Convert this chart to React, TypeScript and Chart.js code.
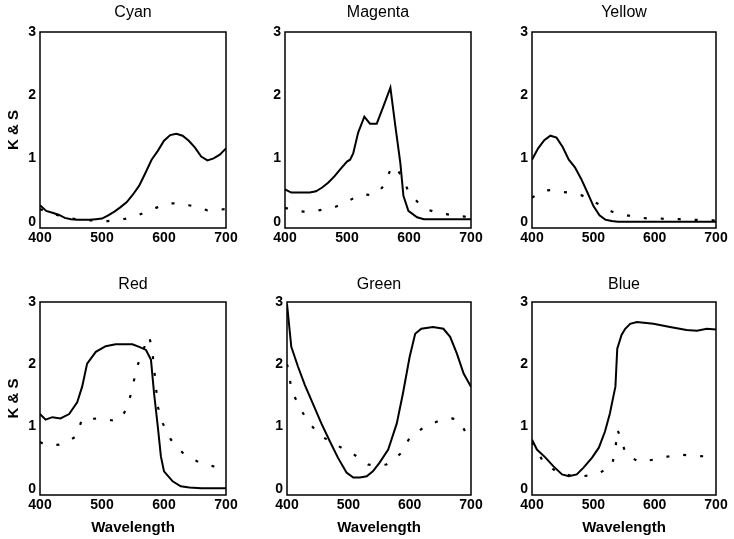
import React, { useEffect, useRef } from "react";
import { Chart, registerables } from "chart.js";

Chart.register(...registerables);
Chart.defaults.font.family = "'Liberation Sans', Arial, Helvetica, sans-serif";
Chart.defaults.color = "#000";

type Pt = [number, number];

// ---- axis ticks ----
const X_TICKS = [400, 500, 600, 700];
const Y_TICKS = [0, 1, 2, 3];
const X_LABEL = "Wavelength";
const Y_LABEL = "K & S";
const TITLES = ["Cyan", "Magenta", "Yellow", "Red", "Green", "Blue"];

// ---- data: [wavelength nm, value] ----
const cyanSolid: Pt[] = [
  [400, 0.26], [410, 0.17], [420, 0.14], [430, 0.11], [440, 0.06], [450, 0.04], [460, 0.03],
  [470, 0.03], [480, 0.03], [490, 0.04], [500, 0.05], [510, 0.1], [520, 0.16], [530, 0.23],
  [540, 0.31], [550, 0.43], [560, 0.57], [570, 0.77], [580, 0.98], [590, 1.12], [600, 1.28],
  [610, 1.37], [620, 1.39], [630, 1.36], [640, 1.28], [650, 1.17], [660, 1.03], [670, 0.97],
  [680, 1.0], [690, 1.06], [700, 1.16],
];
const cyanDotted: Pt[] = [
  [400, 0.2], [410, 0.16], [420, 0.13], [430, 0.1], [440, 0.07], [450, 0.05], [460, 0.04],
  [470, 0.03], [480, 0.02], [490, 0.02], [500, 0.01], [510, 0.01], [520, 0.02], [530, 0.03],
  [540, 0.05], [550, 0.08], [560, 0.11], [570, 0.15], [580, 0.19], [590, 0.23], [600, 0.27],
  [610, 0.29], [620, 0.29], [630, 0.28], [640, 0.26], [650, 0.24], [660, 0.21], [670, 0.18],
  [680, 0.18], [690, 0.19], [700, 0.2],
];
const magentaSolid: Pt[] = [
  [400, 0.51], [410, 0.46], [420, 0.46], [440, 0.46], [450, 0.48], [460, 0.54], [470, 0.62],
  [480, 0.72], [490, 0.84], [500, 0.95], [505, 0.98], [510, 1.08], [518, 1.41], [528, 1.66],
  [537, 1.55], [548, 1.55], [559, 1.83], [570, 2.12], [578, 1.51], [586, 0.93], [591, 0.41],
  [599, 0.17], [613, 0.07], [624, 0.04], [700, 0.04],
];
const magentaDotted: Pt[] = [
  [400, 0.22], [410, 0.19], [420, 0.17], [430, 0.16], [440, 0.16], [450, 0.17], [460, 0.19],
  [470, 0.21], [480, 0.23], [490, 0.27], [500, 0.31], [510, 0.37], [520, 0.42], [530, 0.43],
  [540, 0.42], [550, 0.46], [560, 0.58], [570, 0.82], [578, 0.88], [590, 0.68], [600, 0.46],
  [610, 0.35], [620, 0.25], [630, 0.19], [640, 0.16], [650, 0.13], [660, 0.12], [670, 0.1],
  [680, 0.09], [690, 0.08], [700, 0.07],
];
const yellowSolid: Pt[] = [
  [400, 0.98], [410, 1.16], [420, 1.29], [430, 1.36], [440, 1.33], [450, 1.18], [460, 0.98],
  [470, 0.86], [480, 0.68], [490, 0.47], [500, 0.25], [510, 0.1], [520, 0.03], [530, 0.01],
  [540, 0.0], [600, 0.0], [700, 0.0],
];
const yellowDotted: Pt[] = [
  [400, 0.38], [410, 0.44], [420, 0.49], [430, 0.5], [440, 0.49], [450, 0.47], [460, 0.46],
  [470, 0.44], [480, 0.42], [490, 0.38], [500, 0.32], [510, 0.27], [520, 0.21], [530, 0.16],
  [540, 0.13], [550, 0.11], [560, 0.09], [570, 0.07], [580, 0.06], [590, 0.05], [600, 0.05],
  [610, 0.05], [620, 0.04], [630, 0.04], [640, 0.04], [650, 0.03], [660, 0.03], [670, 0.03],
  [680, 0.02], [690, 0.02], [700, 0.02],
];
const redSolid: Pt[] = [
  [400, 1.2], [409, 1.11], [420, 1.15], [433, 1.13], [447, 1.2], [460, 1.39], [468, 1.64],
  [476, 2.01], [490, 2.2], [506, 2.29], [522, 2.32], [549, 2.32], [560, 2.28], [571, 2.23],
  [579, 2.07], [584, 1.53], [590, 1.0], [595, 0.52], [600, 0.28], [614, 0.12], [627, 0.04],
  [641, 0.02], [660, 0.01], [700, 0.01],
];
const redDotted: Pt[] = [
  [400, 0.75], [408, 0.71], [420, 0.7], [431, 0.71], [445, 0.76], [458, 0.84], [468, 1.12],
  [480, 1.12], [493, 1.13], [510, 1.11], [522, 1.09], [532, 1.15], [541, 1.32], [549, 1.61],
  [555, 1.91], [565, 2.2], [576, 2.45], [581, 2.23], [587, 1.64], [590, 1.32], [598, 1.05],
  [611, 0.79], [630, 0.58], [657, 0.42], [680, 0.36], [700, 0.32],
];
const greenSolid: Pt[] = [
  [400, 2.97], [407, 2.28], [418, 1.96], [429, 1.67], [442, 1.37], [456, 1.05], [470, 0.76],
  [483, 0.5], [497, 0.26], [508, 0.18], [519, 0.18], [530, 0.2], [540, 0.28], [551, 0.42],
  [565, 0.63], [579, 1.05], [589, 1.53], [600, 2.12], [609, 2.49], [619, 2.57], [638, 2.6],
  [655, 2.57], [666, 2.44], [677, 2.17], [688, 1.85], [700, 1.64],
];
const greenDotted: Pt[] = [
  [400, 2.0], [403, 1.88], [407, 1.59], [420, 1.32], [434, 1.08], [455, 0.85], [481, 0.7],
  [508, 0.56], [520, 0.47], [532, 0.39], [545, 0.37], [562, 0.39], [575, 0.48], [587, 0.58],
  [600, 0.82], [625, 1.0], [652, 1.11], [670, 1.13], [680, 1.1], [693, 0.88], [700, 0.87],
];
const blueSolid: Pt[] = [
  [400, 0.79], [408, 0.63], [422, 0.5], [435, 0.36], [449, 0.23], [460, 0.2], [473, 0.23],
  [484, 0.34], [498, 0.5], [509, 0.66], [519, 0.92], [527, 1.21], [533, 1.5], [536, 1.64],
  [539, 2.25], [546, 2.47], [552, 2.57], [560, 2.65], [571, 2.68], [598, 2.65], [625, 2.6],
  [652, 2.55], [669, 2.54], [685, 2.57], [700, 2.56],
];
const blueDotted: Pt[] = [
  [400, 0.75], [418, 0.44], [442, 0.26], [473, 0.19], [505, 0.23], [530, 0.36], [536, 0.63],
  [539, 0.95], [544, 0.84], [553, 0.55], [575, 0.43], [605, 0.48], [636, 0.55], [666, 0.53],
  [700, 0.51],
];

const SOLIDS = [cyanSolid, magentaSolid, yellowSolid, redSolid, greenSolid, blueSolid];
const DOTTEDS = [cyanDotted, magentaDotted, yellowDotted, redDotted, greenDotted, blueDotted];

// ---- layout (plot-area rectangles in page pixels) ----
const PLOT_LEFTS = [40, 285, 532, 40, 287, 532];
const PLOT_RIGHTS = [226, 471, 716, 226, 471, 716];
const ROW_TOP = [32, 302];
const ROW_BOTTOM = [228, 495];
const Y_AXIS_W = 40;
const RIGHT_PAD = 14;
const TITLE_H = 32;

const framePlugin = {
  id: "frame",
  afterDraw(chart: any) {
    const { ctx, chartArea: a } = chart;
    ctx.save();
    ctx.strokeStyle = "#000";
    ctx.lineWidth = 1.5;
    ctx.strokeRect(a.left, a.top, a.right - a.left, a.bottom - a.top);
    ctx.restore();
  },
};

function Panel({ idx }: { idx: number }) {
  const ref = useRef<HTMLCanvasElement>(null);
  const row = idx < 3 ? 0 : 1;
  const col = idx % 3;
  const left = PLOT_LEFTS[idx] - Y_AXIS_W;
  const top = ROW_TOP[row] - TITLE_H;
  const width = Y_AXIS_W + (PLOT_RIGHTS[idx] - PLOT_LEFTS[idx]) + RIGHT_PAD;
  const xAxisH = row === 0 ? 24 : 539 - ROW_BOTTOM[1];
  const height = TITLE_H + (ROW_BOTTOM[row] - ROW_TOP[row]) + xAxisH;

  useEffect(() => {
    const toXY = (arr: Pt[]) => arr.map(([x, y]) => ({ x, y }));
    const chart = new Chart(ref.current!, {
      type: "line",
      data: {
        datasets: [
          {
            data: toXY(SOLIDS[idx]),
            borderColor: "#000",
            borderWidth: 2,
            pointRadius: 0,
            tension: 0,
          },
          {
            data: toXY(DOTTEDS[idx]),
            borderColor: "#000",
            borderWidth: 2.2,
            borderDash: [3, 14],
            pointRadius: 0,
            tension: 0,
          },
        ],
      },
      options: {
        responsive: false,
        animation: false,
        events: [],
        layout: { padding: { left: 0, right: RIGHT_PAD, top: 0, bottom: 0 } },
        plugins: {
          legend: { display: false },
          tooltip: { enabled: false },
          title: {
            display: true,
            fullSize: false,
            text: TITLES[idx],
            color: "#000",
            font: { size: 16, weight: "normal" },
            padding: row === 0 ? { top: 3, bottom: TITLE_H - 3 - 19.2 } : { top: 4.5, bottom: TITLE_H - 4.5 - 19.2 },
          },
        },
        scales: {
          x: {
            type: "linear",
            min: 400,
            max: 700,
            grid: { display: false, drawTicks: false },
            border: { display: false },
            ticks: { font: { size: 14, weight: "bold" }, color: "#000", padding: 2, maxRotation: 0 },
            afterBuildTicks: (s: any) => {
              s.ticks = X_TICKS.map((v) => ({ value: v }));
            },
            afterFit: (s: any) => {
              s.height = xAxisH;
            },
            title: {
              display: row === 1,
              text: X_LABEL,
              color: "#000",
              font: { size: 15, weight: "bold" },
              padding: { top: 0, bottom: 2.5 },
            },
          },
          y: {
            type: "linear",
            min: -0.1,
            max: 3,
            grid: { display: false, drawTicks: false },
            border: { display: false },
            ticks: { font: { size: 14, weight: "bold" }, color: "#000", padding: 4 },
            afterBuildTicks: (s: any) => {
              s.ticks = Y_TICKS.map((v) => ({ value: v }));
            },
            afterFit: (s: any) => {
              s.width = Y_AXIS_W;
            },
            title: {
              display: col === 0,
              text: Y_LABEL,
              color: "#000",
              font: { size: 15, weight: "bold" },
              padding: { top: 4.5, bottom: 0 },
            },
          },
        },
      },
      plugins: [framePlugin],
    } as any);
    return () => chart.destroy();
  }, []);

  return (
    <canvas
      ref={ref}
      width={width}
      height={height}
      style={{ position: "absolute", left, top, width, height, display: "block" }}
    />
  );
}

export default function App() {
  return (
    <div style={{ position: "absolute", left: 0, top: 0, width: 734, height: 539, background: "#fff" }}>
      {TITLES.map((_, i) => (
        <Panel key={i} idx={i} />
      ))}
    </div>
  );
}
